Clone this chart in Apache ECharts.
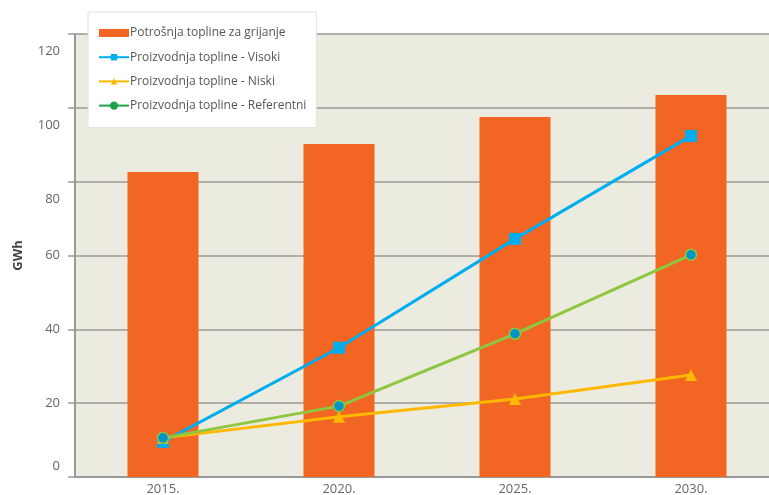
<!DOCTYPE html>
<html><head><meta charset="utf-8">
<script src="https://cdn.jsdelivr.net/npm/echarts@6/dist/echarts.min.js"></script>
<style>html,body{margin:0;padding:0;background:#fff}#c{width:769px;height:495px}</style>
</head><body><div id="c"></div>
<script>
const categories = ['2015.', '2020.', '2025.', '2030.'];
const potrosnja = [82.6, 90.2, 97.5, 103.5];
const visoki = [9.5, 35, 64.5, 92.4];
const niski = [10.6, 16.3, 21.1, 27.6];
const referentni = [10.6, 19.2, 38.8, 60.2];
const yTicks = [0, 20, 40, 60, 80, 100, 120];
const seriesNames = ['Potrošnja topline za grijanje', 'Proizvodnja topline - Visoki', 'Proizvodnja topline - Niski', 'Proizvodnja topline - Referentni'];

const chart = echarts.init(document.getElementById('c'));
chart.setOption({
  animation: false,
  backgroundColor: '#fff',
  grid: { left: 75, top: 34, bottom: 18, right: -10, outerBoundsMode: 'none', containLabel: false, backgroundColor: '#ECEBDF', show: true, borderWidth: 0 },
  legend: {
    orient: 'vertical', left: 88, top: 12, width: 232,
    backgroundColor: '#fff', borderColor: '#e2e2e2', borderWidth: 1,
    padding: [15, 10, 16, 10], itemGap: 12.2, itemWidth: 30, itemHeight: 8,
    textStyle: { fontFamily: 'Open Sans', fontSize: 12, color: '#555', padding: [0, 0, 0, -4] },
    data: [
      { name: seriesNames[0], icon: 'rect', itemStyle: { color: '#F26522' } },
      { name: seriesNames[1] },
      { name: seriesNames[2] },
      { name: seriesNames[3], itemStyle: { color: '#1FA34A', borderColor: '#1FA34A' }, lineStyle: { color: '#1FA34A' } }
    ]
  },
  xAxis: {
    type: 'category', data: categories,
    axisLine: { lineStyle: { color: '#999', width: 2 } },
    axisTick: { show: false },
    axisLabel: { fontFamily: 'Open Sans', fontSize: 13, color: '#666', margin: 6 }
  },
  yAxis: {
    type: 'value', min: yTicks[0], max: yTicks[yTicks.length - 1], interval: 20,
    name: 'GWh', nameLocation: 'middle', nameGap: 50, nameRotate: 90,
    nameTextStyle: { fontFamily: 'Open Sans', fontSize: 13, fontWeight: 'bold', color: '#444' },
    axisLine: { show: true, lineStyle: { color: '#999', width: 2 } },
    axisTick: { show: true, length: 7, lineStyle: { color: '#999', width: 1.5 } },
    splitLine: { lineStyle: { color: '#999', width: 1.5 } },
    axisLabel: {
      fontFamily: 'Open Sans', fontSize: 13, color: '#666', margin: 15,
      formatter: function (v) {
        if (v >= 80) return '{d|' + v + '}';
        if (v === 0) return '{u|' + v + '}';
        return '{n|' + v + '}';
      },
      rich: {
        d: { fontFamily: 'Open Sans', fontSize: 13, color: '#666', padding: [35, 0, 0, 0] },
        u: { fontFamily: 'Open Sans', fontSize: 13, color: '#666', padding: [0, 0, 22, 0] },
        n: { fontFamily: 'Open Sans', fontSize: 13, color: '#666' }
      }
    }
  },
  series: [
    { name: seriesNames[0], type: 'bar', data: potrosnja, barWidth: 71, itemStyle: { color: '#F26522' } },
    { name: seriesNames[1], type: 'line', data: visoki, symbol: 'rect', symbolSize: 12,
      lineStyle: { color: '#00AEEF', width: 3 }, itemStyle: { color: '#00AEEF' }, z: 3 },
    { name: seriesNames[2], type: 'line', data: niski, symbol: 'triangle', symbolSize: 12,
      lineStyle: { color: '#FFB800', width: 3 }, itemStyle: { color: '#FFB800' }, z: 4 },
    { name: seriesNames[3], type: 'line', data: referentni, symbol: 'circle', symbolSize: 11,
      lineStyle: { color: '#8DC63F', width: 3 }, itemStyle: { color: '#0095C8', borderColor: '#8DC63F', borderWidth: 1.5 }, z: 5 }
  ]
});
</script></body></html>
